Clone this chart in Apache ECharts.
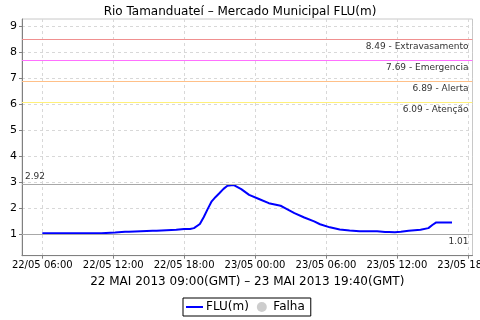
<!DOCTYPE html>
<html><head><meta charset="utf-8">
<script src="https://cdn.jsdelivr.net/npm/echarts@6/dist/echarts.min.js"></script>
<style>html,body{margin:0;padding:0;background:#fff}#c{width:480px;height:320px}</style>
</head><body><div id="c"></div>
<script>
var titleText = 'Rio Tamanduateí – Mercado Municipal FLU(m)';
var xAxisName = '22 MAI 2013 09:00(GMT) – 23 MAI 2013 19:40(GMT)';
var seriesName = 'FLU(m)';
var failName = 'Falha';
var times = ['2013-05-22 06:00','2013-05-22 07:20','2013-05-22 07:30','2013-05-22 07:40','2013-05-22 08:20','2013-05-22 08:30','2013-05-22 08:40','2013-05-22 11:00','2013-05-22 11:10','2013-05-22 12:10','2013-05-22 12:20','2013-05-22 13:00','2013-05-22 13:10','2013-05-22 13:20','2013-05-22 13:30','2013-05-22 15:20','2013-05-22 15:30','2013-05-22 15:40','2013-05-22 15:50','2013-05-22 17:20','2013-05-22 17:30','2013-05-22 18:00','2013-05-22 18:10','2013-05-22 18:30','2013-05-22 18:50','2013-05-22 19:00','2013-05-22 19:20','2013-05-22 19:40','2013-05-22 20:00','2013-05-22 20:20','2013-05-22 20:40','2013-05-22 21:00','2013-05-22 21:20','2013-05-22 21:40','2013-05-22 21:50','2013-05-22 22:10','2013-05-22 22:20','2013-05-22 22:50','2013-05-22 23:30','2013-05-23 00:20','2013-05-23 01:10','2013-05-23 02:10','2013-05-23 02:30','2013-05-23 03:20','2013-05-23 04:10','2013-05-23 05:00','2013-05-23 05:30','2013-05-23 06:20','2013-05-23 07:10','2013-05-23 08:00','2013-05-23 08:50','2013-05-23 10:20','2013-05-23 11:00','2013-05-23 11:10','2013-05-23 11:20','2013-05-23 11:30','2013-05-23 11:50','2013-05-23 12:20','2013-05-23 13:00','2013-05-23 14:00','2013-05-23 14:40','2013-05-23 15:00','2013-05-23 15:20','2013-05-23 16:40'];
var values = [1.04,1.04,1.01,1.04,1.04,1.01,1.04,1.04,1.07,1.07,1.10,1.10,1.13,1.10,1.14,1.14,1.17,1.14,1.18,1.18,1.21,1.21,1.18,1.21,1.24,1.28,1.40,1.67,1.98,2.27,2.44,2.59,2.75,2.87,2.92,2.90,2.86,2.74,2.52,2.36,2.20,2.10,2.02,1.82,1.65,1.50,1.39,1.27,1.19,1.15,1.12,1.12,1.09,1.06,1.09,1.05,1.08,1.10,1.14,1.18,1.24,1.36,1.46,1.46];
var thresholdValues = [8.49, 7.69, 6.89, 6.09];
var thresholdNames = ['Extravasamento', 'Emergencia', 'Alerta', 'Atenção'];
var thresholdColors = ['#f09090', '#ff70ff', '#ffc088', '#fff07a'];
var yTicks = [1, 2, 3, 4, 5, 6, 7, 8, 9];
var xTicks = ['2013-05-22 06:00','2013-05-22 12:00','2013-05-22 18:00','2013-05-23 00:00','2013-05-23 06:00','2013-05-23 12:00','2013-05-23 18:00'];
var xMin = '2013-05-22 04:17', xMax = '2013-05-23 18:24';
var yMin = 0.18, yMax = 9.28;

function ts(s){ return new Date(s.replace(' ', 'T')).getTime(); }
function pad(n){ return (n<10?'0':'')+n; }
var FONT = 'DejaVu Sans';

var data = times.map(function(t,i){ return [ts(t), values[i]]; });
var mlData = thresholdValues.map(function(v,i){
  return {yAxis: v, lineStyle:{color: thresholdColors[i], type:'solid', width:1},
    label:{formatter: v.toFixed(2) + ' - ' + thresholdNames[i], position:'insideEndBottom'}};
});
mlData.push({type:'max', lineStyle:{color:'#a8a8a8', type:'solid', width:1},
  label:{position:'insideStartTop', formatter: function(p){return p.value.toFixed(2);}, distance:[3,3]}});
mlData.push({type:'min', lineStyle:{color:'#a8a8a8', type:'solid', width:1},
  label:{position:'insideEndBottom', formatter: function(p){return p.value.toFixed(2);}}});

var chart = echarts.init(document.getElementById('c'), null, {renderer:'canvas'});
chart.setOption({
  animation: false,
  backgroundColor: '#fff',
  title: {text: titleText, left: 'center', top: 1, textStyle:{fontFamily:FONT, fontSize:12, fontWeight:'normal', color:'#000'}},
  grid: {left: 22, top: 19, right: 7.5, bottom: 64.3, show: true, borderColor:'#c8c8c8', borderWidth:1, containLabel:false, outerBoundsMode:'none'},
  legend: {left: 183, top: 298, padding:[3,6,3,3], borderColor:'#000', borderWidth:1, itemGap:8, itemWidth:17, itemHeight:10,
    textStyle:{fontFamily:FONT, fontSize:12, color:'#000', padding:[0,0,0,-2]},
    data:[{name: seriesName, icon:'path://M0,0L20,0L20,2.4L0,2.4Z', itemStyle:{color:'#0000ff'}}, {name: failName, icon:'circle'}]},
  xAxis: {type:'value', min: ts(xMin), max: ts(xMax),
    name: xAxisName, nameLocation:'middle', nameGap: 20,
    nameTextStyle:{fontFamily:FONT, fontSize:12, color:'#000'},
    axisLine:{show:true, lineStyle:{color:'#808080'}},
    axisTick:{show:true, length:3, inside:false, lineStyle:{color:'#808080'}, customValues: xTicks.map(ts)},
    axisLabel:{fontFamily:FONT, fontSize:10, color:'#000', margin:5, hideOverlap:false, showMinLabel:true, showMaxLabel:true,
      customValues: xTicks.map(ts),
      formatter: function(v){ var d=new Date(v); return pad(d.getDate())+'/'+pad(d.getMonth()+1)+' '+pad(d.getHours())+':'+pad(d.getMinutes()); }},
    splitLine:{show:true, lineStyle:{color:'#d8d8d8', type:[3,3], width:1}}
  },
  yAxis: {type:'value', min: yMin, max: yMax,
    axisLine:{show:true, lineStyle:{color:'#808080'}},
    axisTick:{show:true, length:3, lineStyle:{color:'#808080'}, customValues: yTicks},
    axisLabel:{fontFamily:FONT, fontSize:11, color:'#000', margin:5, customValues: yTicks},
    splitLine:{show:true, lineStyle:{color:'#d8d8d8', type:[3,3], width:1}}
  },
  series: [
    {name: seriesName, type:'line', data: data, symbol:'none', lineStyle:{color:'#0000ff', width:2}, itemStyle:{color:'#0000ff'},
      markLine:{silent:true, symbol:['none','none'], animation:false,
        label:{fontFamily:FONT, fontSize:9, color:'#333', distance:[4,3]}, data: mlData}},
    {name: failName, type:'scatter', data: [], itemStyle:{color:'#c0c0c0'}}
  ]
});
</script></body></html>
